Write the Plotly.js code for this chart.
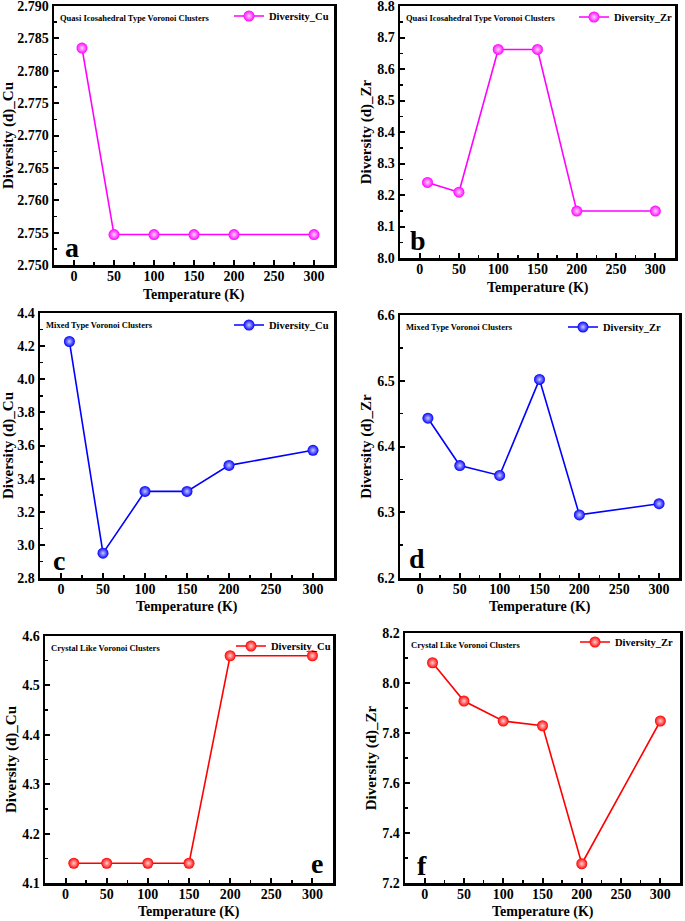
<!DOCTYPE html>
<html>
<head>
<meta charset="utf-8">
<script src="https://cdn.plot.ly/plotly-3.0.1.min.js"></script>
<style>html,body{margin:0;padding:0;background:#fff;}#chart{width:685px;height:921px;}</style>
</head>
<body>
<div id="chart"></div>
<script>
// ---- data ----
const temps = [10, 50, 100, 150, 200, 300];
const xTicks = [0, 50, 100, 150, 200, 250, 300];
const quasiCu = [2.7835, 2.7547, 2.7547, 2.7547, 2.7547, 2.7547];
const quasiZr = [8.240, 8.209, 8.662, 8.662, 8.149, 8.149];
const mixedCu = [4.228, 2.950, 3.323, 3.323, 3.480, 3.571];
const mixedZr = [6.443, 6.371, 6.356, 6.502, 6.296, 6.313];
const crystalCu = [4.140, 4.140, 4.140, 4.140, 4.560, 4.560];
const crystalZr = [8.081, 7.928, 7.848, 7.829, 7.277, 7.848];
const seriesNames = ['Diversity_Cu', 'Diversity_Zr', 'Diversity_Cu', 'Diversity_Zr', 'Diversity_Cu', 'Diversity_Zr'];
const yTitles = ['Diversity (d)_Cu', 'Diversity (d)_Zr', 'Diversity (d)_Cu', 'Diversity (d)_Zr', 'Diversity (d)_Cu', 'Diversity (d)_Zr'];
const clusterLabels = ['Quasi Icosahedral Type Voronoi Clusters', 'Quasi Icosahedral Type Voronoi Clusters',
  'Mixed Type Voronoi Clusters', 'Mixed Type Voronoi Clusters',
  'Crystal Like Voronoi Clusters', 'Crystal Like Voronoi Clusters'];
const panelLetters = ['a', 'b', 'c', 'd', 'e', 'f'];
const xTitle = 'Temperature (K)';

// ---- styling / layout ----
const W = 685, H = 921;
const FONT = '"Liberation Serif"';
const series = [quasiCu, quasiZr, mixedCu, mixedZr, crystalCu, crystalZr];
const colors = ['#ff00ff', '#ff00ff', '#0000ff', '#0000ff', '#ff0000', '#ff0000'];
const highlight = ['#ffd6ff', '#ffd6ff', '#c8c8ff', '#c8c8ff', '#ffd0d0', '#ffd0d0'];
// plot boxes in pixels: [left, right, top, bottom]
const boxes = [
  [54, 334, 6, 265],
  [400, 675, 6, 258],
  [40, 334, 313, 578],
  [400, 679, 315, 578],
  [45, 333, 636, 883],
  [405, 680, 633, 883]
];
const yRanges = [[2.750, 2.790], [8.0, 8.8], [2.8, 4.4], [6.2, 6.6], [4.1, 4.6], [7.2, 8.2]];
const yDticks = [0.005, 0.1, 0.2, 0.1, 0.1, 0.2];
const yFormats = ['.3f', '.1f', '.1f', '.1f', '.1f', '.1f'];
const letterPos = [[72, 247], [418, 240], [59, 560], [417, 558], [317, 863], [422, 865]];
const legendPos = [[334, 16], [678, 17], [334, 325], [667, 327], [336, 646], [679, 642]]; // right edge, center y
const xTitleY = [295, 288, 607, 607, 912, 912];

const px = x => x / W;
const py = y => 1 - y / H;

const traces = [];
const layout = {
  width: W, height: H,
  margin: {l: 0, r: 0, t: 0, b: 0},
  paper_bgcolor: '#ffffff', plot_bgcolor: '#ffffff',
  font: {family: FONT, color: '#000', weight: 'bold'},
  showlegend: true,
  annotations: []
};

for (let i = 0; i < 6; i++) {
  const n = i === 0 ? '' : String(i + 1);
  const b = boxes[i];
  const legKey = 'legend' + (i + 2);
  traces.push({
    x: temps, y: series[i], type: 'scatter', mode: 'lines+markers',
    name: seriesNames[i], xaxis: 'x' + n, yaxis: 'y' + n, legend: legKey,
    line: {color: colors[i], width: 1.6},
    marker: {size: 11, color: colors[i], gradient: {type: 'radial', color: highlight[i]},
             line: {width: 0}}
  });
  const common = {
    showline: true, linecolor: '#000', linewidth: 2.5, mirror: true,
    ticks: 'inside', ticklen: 5, tickwidth: 2, tickcolor: '#000',
    showgrid: false, zeroline: false, ticklabeloverflow: 'allow',
    tickfont: {family: FONT, size: 14, color: '#000', weight: 'bold'}
  };
  layout['xaxis' + n] = Object.assign({}, common, {
    domain: [px(b[0]), px(b[1])], anchor: 'y' + n,
    range: [-25, 325], tickvals: xTicks, ticktext: xTicks.map(String),
    ticklabelstandoff: -3,
    minor: {ticks: 'inside', ticklen: 3, tickwidth: 1.5, tickcolor: '#000', dtick: 25, tick0: 0}
  });
  layout['yaxis' + n] = Object.assign({}, common, {
    domain: [py(b[3]), py(b[2])], anchor: 'x' + n,
    range: yRanges[i], dtick: yDticks[i], tick0: yRanges[i][0], tickformat: yFormats[i],
    minor: {ticks: 'inside', ticklen: 3, tickwidth: 1.5, tickcolor: '#000', dtick: yDticks[i] / 2, tick0: yRanges[i][0]},
    title: {text: yTitles[i], font: {family: FONT, size: 15, color: '#000', weight: 'bold'}, standoff: 2}
  });
  layout[legKey] = {
    x: px(legendPos[i][0]), xanchor: 'right', y: py(legendPos[i][1]), yanchor: 'middle',
    bgcolor: 'rgba(0,0,0,0)', borderwidth: 0, itemwidth: 30,
    font: {family: FONT, size: 10.5, color: '#000', weight: 'bold'}
  };
  // x-axis title, placed under each panel
  layout.annotations.push({
    xref: 'paper', yref: 'paper', x: px((b[0] + b[1]) / 2), y: py(xTitleY[i]),
    xanchor: 'center', yanchor: 'middle', showarrow: false, text: xTitle,
    font: {family: FONT, size: 14, color: '#000', weight: 'bold'}
  });
  layout.annotations.push({
    xref: 'paper', yref: 'paper', x: px(b[0] + 4), y: py(b[2] + 5),
    xanchor: 'left', yanchor: 'top', showarrow: false, text: clusterLabels[i],
    font: {family: FONT, size: 8.5, color: '#000', weight: 'bold'}
  });
  layout.annotations.push({
    xref: 'paper', yref: 'paper', x: px(letterPos[i][0]), y: py(letterPos[i][1]),
    xanchor: 'center', yanchor: 'middle', showarrow: false, text: panelLetters[i],
    font: {family: FONT, size: 28, color: '#000', weight: 'bold'}
  });
}

Plotly.newPlot('chart', traces, layout, {displayModeBar: false, staticPlot: true});
</script>
</body>
</html>
